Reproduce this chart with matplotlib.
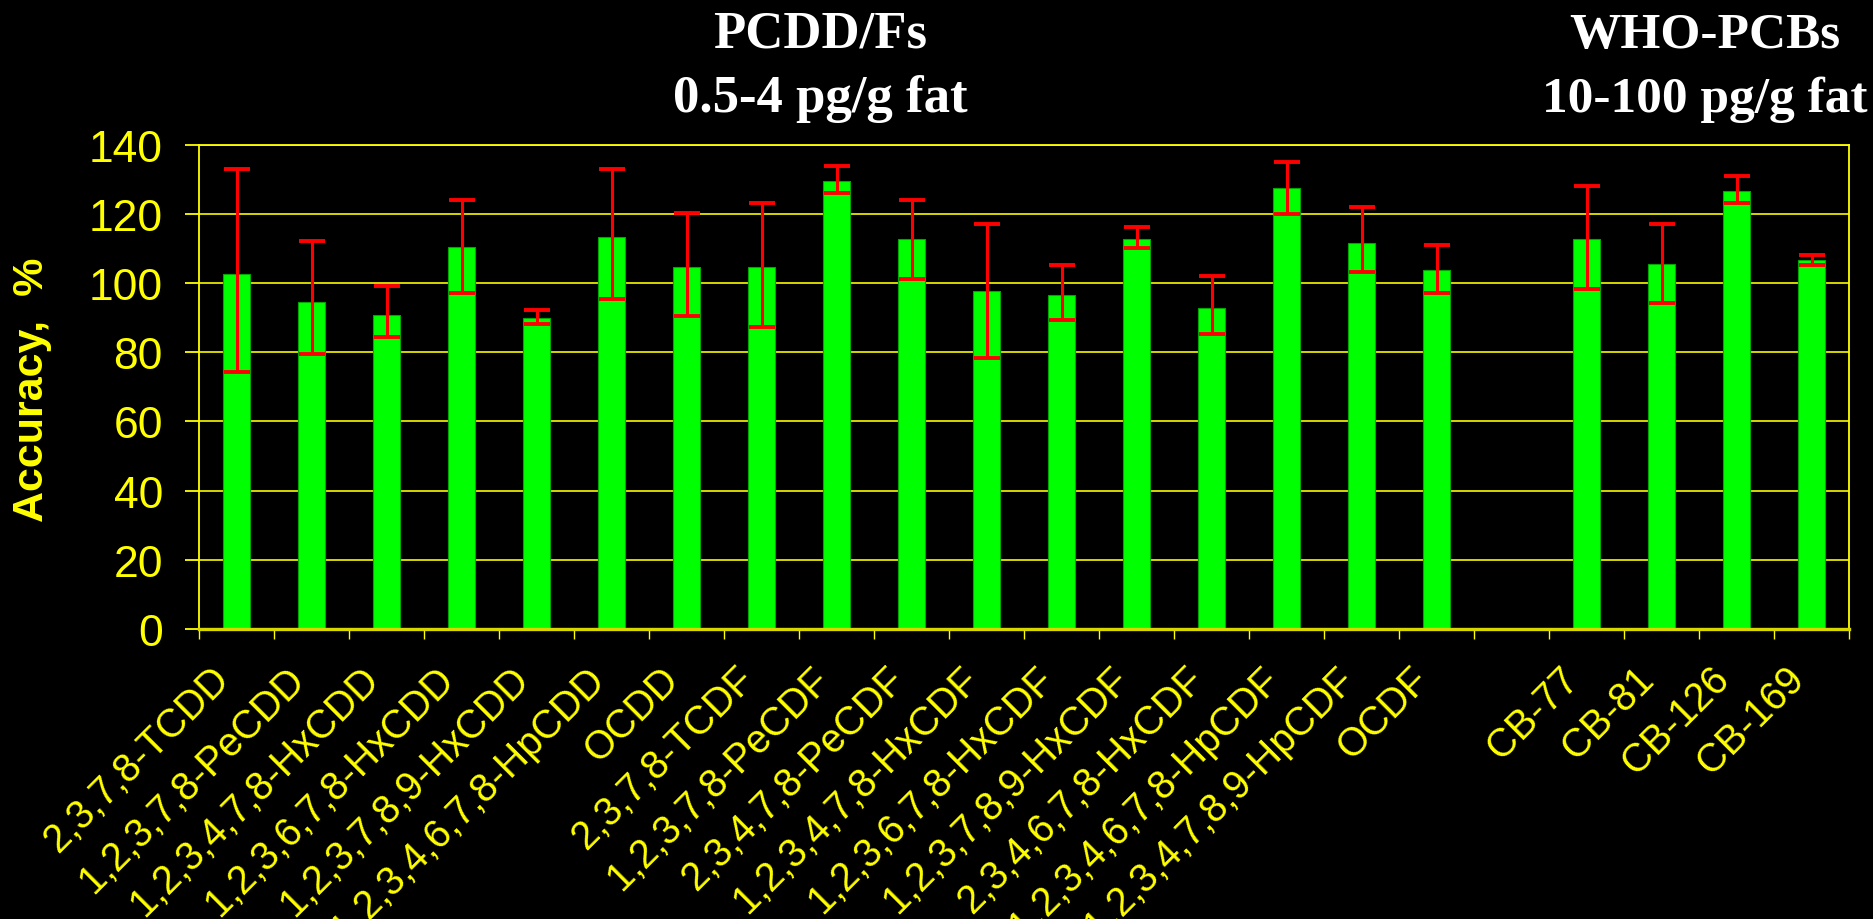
import numpy as np
import matplotlib
matplotlib.use('Agg')
import matplotlib.pyplot as plt
from matplotlib.ticker import FixedLocator

plt.rcParams['font.family'] = ['Liberation Sans', 'DejaVu Sans']

# Data
pcdd_names = ['2,3,7,8-TCDD', '1,2,3,7,8-PeCDD', '1,2,3,4,7,8-HxCDD', '1,2,3,6,7,8-HxCDD',
              '1,2,3,7,8,9-HxCDD', '1,2,3,4,6,7,8-HpCDD', 'OCDD', '2,3,7,8-TCDF',
              '1,2,3,7,8-PeCDF', '2,3,4,7,8-PeCDF', '1,2,3,4,7,8-HxCDF', '1,2,3,6,7,8-HxCDF',
              '1,2,3,7,8,9-HxCDF', '2,3,4,6,7,8-HxCDF', '1,2,3,4,6,7,8-HpCDF',
              '1,2,3,4,7,8,9-HpCDF', 'OCDF']
pcdd_acc = [102.6, 94.7, 90.8, 110.6, 89.8, 113.5, 104.7, 104.7, 129.6, 112.7,
            97.7, 96.7, 112.7, 92.8, 127.5, 111.6, 103.7]
pcdd_hi = [133.0, 112.2, 99.3, 124.1, 92.3, 133.0, 120.2, 123.1, 134.0, 124.2,
           117.2, 105.2, 116.2, 102.2, 135.1, 122.1, 111.1]
pcdd_lo = [74.4, 79.4, 84.3, 97.3, 88.3, 95.3, 90.4, 87.4, 126.1, 101.3,
           78.4, 89.3, 110.3, 85.4, 120.1, 103.2, 97.3]

pcb_names = ['CB-77', 'CB-81', 'CB-126', 'CB-169']
pcb_acc = [112.7, 105.7, 126.6, 106.7]
pcb_hi = [128.1, 117.2, 131.1, 108.2]
pcb_lo = [98.2, 94.3, 123.1, 105.2]

yticks = [0, 20, 40, 60, 80, 100, 120, 140]

# positions: PCDD/Fs, one empty slot, then PCBs
names = pcdd_names + pcb_names
acc = np.array(pcdd_acc + pcb_acc)
hi = np.array(pcdd_hi + pcb_hi)
lo = np.array(pcdd_lo + pcb_lo)
pos = np.r_[np.arange(len(pcdd_names)), np.arange(len(pcb_names)) + len(pcdd_names) + 1]
nslots = len(pcdd_names) + 1 + len(pcb_names)

W, H = 1873, 920
fig = plt.figure(figsize=(W / 100, H / 100), dpi=100, facecolor='black')
ax = fig.add_axes([199 / W, 1 - 629.7 / H, 1650 / W, 483.7 / H], facecolor='black')

yel = '#FFFF00'
ax.bar(pos, acc, width=0.36, color='#00FF00', edgecolor='#00A800', linewidth=0.8, zorder=2)
ax.errorbar(pos, acc, yerr=[acc - lo, hi - acc], fmt='none', ecolor='#FF0000',
            elinewidth=2.2, capsize=9.7, capthick=2.8, zorder=3)

ax.set_xlim(-0.5, nslots - 0.5)
ax.set_ylim(0, 140)
ax.set_yticks(yticks)
ax.yaxis.grid(True, color='#E6E600', linewidth=1.3)
ax.set_axisbelow(True)

ax.set_xticks(pos)
ax.set_xticklabels(names, rotation=45, ha='right', va='top')
ax.xaxis.set_minor_locator(FixedLocator(np.arange(nslots + 1) - 0.5))
ax.tick_params(axis='x', which='major', length=0, pad=22, labelsize=28.5, labelcolor=yel)
ax.tick_params(axis='x', which='minor', length=7.5, width=1, color=yel, direction='out')
ax.tick_params(axis='y', length=10, width=1.3, color=yel, direction='out',
               labelsize=32, labelcolor=yel, pad=16)

for s in ['left', 'right', 'top']:
    ax.spines[s].set_color(yel)
    ax.spines[s].set_linewidth(1.3)
ax.spines['bottom'].set_color('#D8D800')
ax.spines['bottom'].set_linewidth(2.4)

fig.text(32 / W, 1 - 390 / H, 'Accuracy,  %', rotation=90, ha='center', va='center',
         fontsize=31, fontweight='bold', color=yel)

tfont = dict(fontsize=38, fontweight='bold', color='white', ha='center', va='baseline',
             family=['Liberation Serif', 'DejaVu Serif'])
fig.text(820 / W, 1 - 48 / H, 'PCDD/Fs', **tfont)
fig.text(820 / W, 1 - 112 / H, '0.5-4 pg/g fat', **tfont)
tfont['fontsize'] = 37
fig.text(1705 / W, 1 - 48 / H, 'WHO-PCBs', **tfont)
fig.text(1705 / W, 1 - 112 / H, '10-100 pg/g fat', **tfont)

fig.savefig('out.png', dpi=100, facecolor='black')
